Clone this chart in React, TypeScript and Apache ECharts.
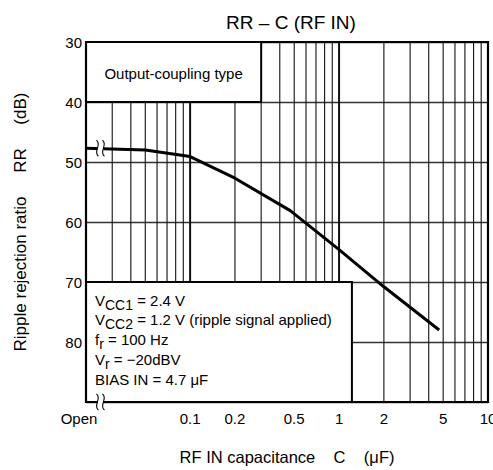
import React, { useEffect, useRef } from "react";
import * as echarts from "echarts";

const xGridValues = [
  0.03, 0.04, 0.05, 0.06, 0.07, 0.08, 0.09, 0.1,
  0.2, 0.3, 0.4, 0.5, 0.6, 0.7, 0.8, 0.9, 1,
  2, 3, 4, 5, 6, 7, 8, 9,
];
const xMajorValues = [0.1, 1];
const xTickValues = [0.02, 0.1, 0.2, 0.5, 1, 2, 5, 10];
const xTickLabels = ["Open", "0.1", "0.2", "0.5", "1", "2", "5", "10"];

const curveC = [0.02, 0.05, 0.1, 0.2, 0.47, 1, 2, 4.7];
const curveRR = [47.7, 48.0, 49.1, 52.7, 58.1, 64.6, 70.8, 78.0];

const breakPoints = [
  [0.025, 47.7],
  [0.025, 90],
];

const X_MIN = 0.02;
const X_MAX = 10;
const Y_MIN = 30;
const Y_MAX = 90;

const topBox = [0.02, 30, 0.3, 40];
const bottomBox = [0.02, 70, 1.22, 90];
const topBoxText = "Output-coupling type";
const conditionLines = [
  "V{s|CC1} = 2.4 V",
  "V{s|CC2} = 1.2 V (ripple signal applied)",
  "f{s|r} = 100 Hz",
  "V{s|r} = −20dBV",
  "BIAS IN = 4.7 μF",
];

const FONT = "Liberation Sans, Arial, sans-serif";

export default function App() {
  const ref = useRef<HTMLDivElement>(null);
  useEffect(() => {
    if (!ref.current) return;
    const chart = echarts.init(ref.current, null, { renderer: "svg" });
    const rich = { s: { fontSize: 14, fontFamily: FONT, fill: "#000", padding: [9, 0, 0, 0] } };
    chart.setOption({
      animation: false,
      backgroundColor: "#fff",
      title: {
        text: "RR – C (RF IN)",
        left: 286,
        top: 8,
        textAlign: "center",
        textStyle: { fontFamily: FONT, fontSize: 19, fontWeight: "normal", color: "#000" },
      },
      grid: { left: 86, right: 5, top: 42, bottom: 67, containLabel: false },
      xAxis: {
        type: "log",
        logBase: 10,
        min: X_MIN,
        max: X_MAX,
        axisLine: { show: false },
        axisTick: { show: false },
        axisLabel: { show: false },
        splitLine: { show: false },
        name: "RF IN capacitance    C    (μF)",
        nameLocation: "middle",
        nameGap: 46,
        nameTextStyle: { fontFamily: FONT, fontSize: 16.5, color: "#000" },
      },
      yAxis: {
        type: "value",
        inverse: true,
        min: Y_MIN,
        max: Y_MAX,
        interval: 10,
        axisLine: { show: false },
        axisTick: { show: false },
        axisLabel: {
          fontFamily: FONT,
          fontSize: 15,
          color: "#000",
          margin: 4,
          formatter: (v: number) => (v === 90 ? "" : String(v)),
        },
        splitLine: { show: true, lineStyle: { color: "#333", width: 1.3 } },
        name: "Ripple rejection ratio     RR     (dB)",
        nameLocation: "middle",
        nameGap: 57,
        nameTextStyle: { fontFamily: FONT, fontSize: 17, color: "#000" },
      },
      series: [
        {
          type: "custom",
          z: 2,
          silent: true,
          data: xGridValues.map((v) => [v, xMajorValues.includes(v) ? 1 : 0]),
          renderItem: (params: any, api: any) => {
            const v = api.value(0);
            const major = api.value(1) === 1;
            const p1 = api.coord([v, Y_MIN]);
            const p2 = api.coord([v, Y_MAX]);
            return {
              type: "line",
              shape: { x1: p1[0], y1: p1[1], x2: p2[0], y2: p2[1] },
              style: { stroke: "#111", lineWidth: major ? 2 : 1.1 },
            };
          },
        },
        {
          type: "custom",
          z: 3,
          silent: true,
          data: [[...topBox, 0], [...bottomBox, 1]],
          renderItem: (params: any, api: any) => {
            const a = api.coord([api.value(0), api.value(1)]);
            const b = api.coord([api.value(2), api.value(3)]);
            const kind = api.value(4);
            const children: any[] = [
              {
                type: "rect",
                shape: { x: a[0], y: a[1], width: b[0] - a[0], height: b[1] - a[1] },
                style: { fill: "#fff", stroke: "#000", lineWidth: 2 },
              },
            ];
            if (kind === 0) {
              children.push({
                type: "text",
                style: {
                  text: topBoxText,
                  x: (a[0] + b[0]) / 2,
                  y: (a[1] + b[1]) / 2 + 1,
                  align: "center",
                  verticalAlign: "middle",
                  font: `15px ${FONT}`,
                  fill: "#000",
                },
              });
            } else {
              conditionLines.forEach((t, i) => {
                children.push({
                  type: "text",
                  style: {
                    text: t,
                    x: a[0] + 9,
                    y: a[1] + 18 + i * 19.8,
                    align: "left",
                    verticalAlign: "middle",
                    font: `15px ${FONT}`,
                    fill: "#000",
                    rich,
                  },
                });
              });
            }
            return { type: "group", children };
          },
        },
        {
          type: "line",
          z: 4,
          silent: true,
          symbol: "none",
          smooth: false,
          data: curveC.map((c, i) => [c, curveRR[i]]),
          lineStyle: { color: "#000", width: 3 },
        },
        {
          type: "custom",
          z: 5,
          silent: true,
          data: [[X_MIN, Y_MIN, X_MAX, Y_MAX]],
          renderItem: (params: any, api: any) => {
            const a = api.coord([api.value(0), api.value(1)]);
            const b = api.coord([api.value(2), api.value(3)]);
            return {
              type: "rect",
              shape: { x: a[0], y: a[1], width: b[0] - a[0], height: b[1] - a[1] },
              style: { fill: "none", stroke: "#000", lineWidth: 2.2 },
            };
          },
        },
        {
          type: "custom",
          z: 6,
          silent: true,
          data: breakPoints,
          renderItem: (params: any, api: any) => {
            const p = api.coord([api.value(0), api.value(1)]);
            const x = p[0];
            const y = p[1];
            const wave = (cx: number) => ({
              type: "bezierCurve",
              shape: {
                x1: cx - 1, y1: y - 8,
                cpx1: cx + 5, cpy1: y - 4,
                cpx2: cx - 5, cpy2: y + 4,
                x2: cx + 1, y2: y + 8,
              },
              style: { stroke: "#000", lineWidth: 1.1, fill: "none" },
            });
            return {
              type: "group",
              children: [
                {
                  type: "rect",
                  shape: { x: x - 3, y: y - 3, width: 6, height: 6 },
                  style: { fill: "#fff" },
                },
                wave(x - 3),
                wave(x + 3),
              ],
            };
          },
        },
        {
          type: "custom",
          z: 6,
          silent: true,
          data: xTickValues.map((v, i) => [v, i]),
          renderItem: (params: any, api: any) => {
            const v = api.value(0);
            const i = api.value(1);
            const p = api.coord([v, Y_MAX]);
            return {
              type: "text",
              style: {
                text: xTickLabels[i],
                x: p[0] + (i === 0 ? -7 : 0),
                y: p[1] + 16,
                align: "center",
                verticalAlign: "middle",
                font: `15px ${FONT}`,
                fill: "#000",
              },
            };
          },
        },
      ],
    });
    return () => chart.dispose();
  }, []);
  return (
    <div
      ref={ref}
      style={{ position: "fixed", left: 0, top: 0, width: 493, height: 470 }}
    />
  );
}
